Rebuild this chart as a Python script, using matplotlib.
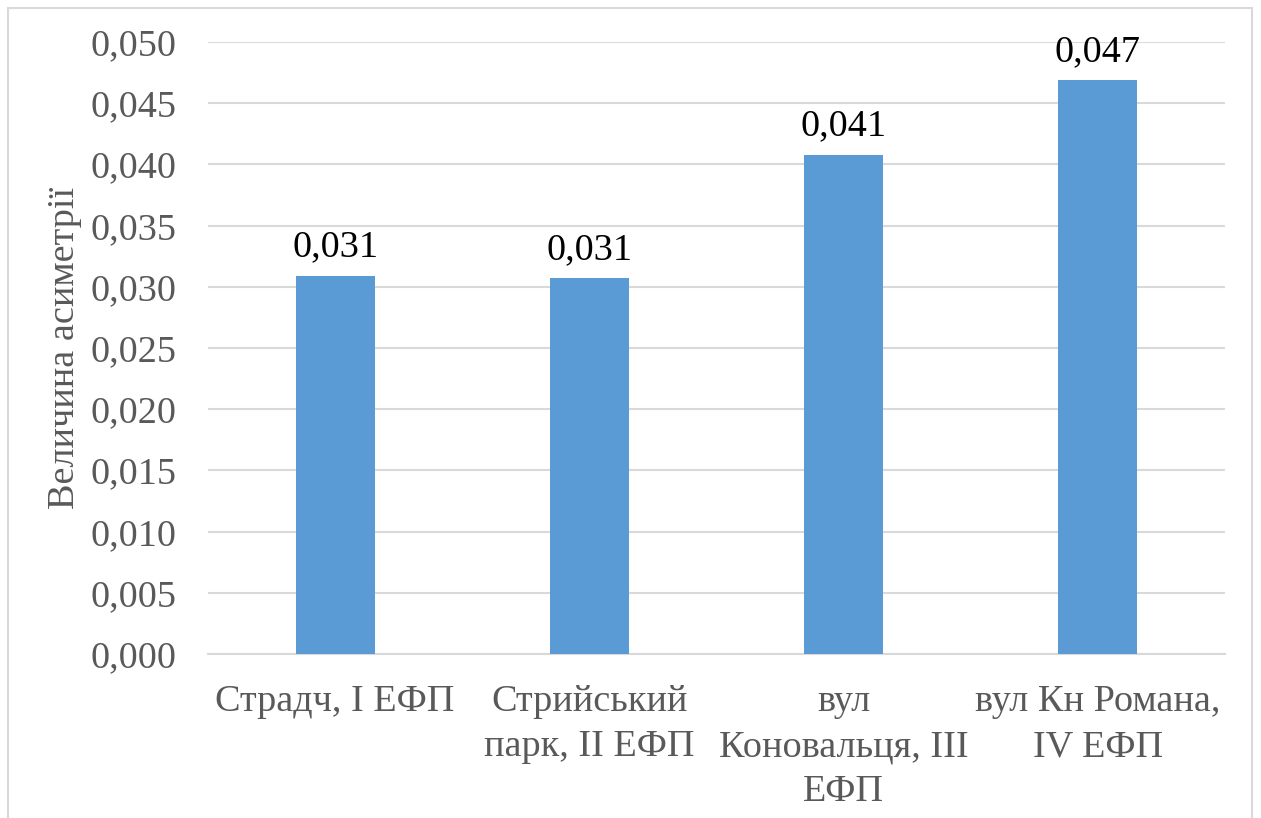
import matplotlib
matplotlib.use("Agg")
import matplotlib.pyplot as plt
from matplotlib.patches import Rectangle
from matplotlib.ticker import FuncFormatter, MultipleLocator

# дані
categories = [
    "Страдч, I ЕФП",
    "Стрийський\nпарк, II ЕФП",
    "вул\nКоновальця, III\nЕФП",
    "вул Кн Романа,\nIV ЕФП",
]
values = [0.0309, 0.0307, 0.0408, 0.0469]
value_labels = ["0,031", "0,031", "0,041", "0,047"]

plt.rcParams["font.family"] = ["Liberation Serif", "DejaVu Serif"]
FS = 27.5

fig = plt.figure(figsize=(12.61, 8.18), dpi=100)
ax = fig.add_axes([0.165, 0.2005, 0.8064, 0.7482])

x = range(len(categories))
bars = ax.bar(x, values, width=0.31, color="#5B9BD5", zorder=3)

for b, lab in zip(bars, value_labels):
    ax.annotate(lab, (b.get_x() + b.get_width() / 2, b.get_height()),
                xytext=(0, 8), textcoords="offset points",
                ha="center", va="bottom", fontsize=FS, color="black")

ax.set_xlim(-0.5, len(categories) - 0.5)
ax.set_ylim(0, 0.05)
ax.yaxis.set_major_locator(MultipleLocator(0.005))
ax.yaxis.set_major_formatter(FuncFormatter(lambda v, p: f"{v:.3f}".replace(".", ",")))
ax.grid(axis="y", color="#d9d9d9", linewidth=1.5, zorder=0)

ax.set_xticks(list(x))
ax.set_xticklabels(categories, fontsize=FS, color="#595959", linespacing=1.4)
ax.tick_params(axis="x", length=0, pad=22)
ax.tick_params(axis="y", length=0, pad=23, labelsize=FS, labelcolor="#595959")

for s in ["top", "right", "left"]:
    ax.spines[s].set_visible(False)
ax.spines["bottom"].set_color("#d9d9d9")
ax.spines["bottom"].set_linewidth(1.5)

ax.set_ylabel("Величина асиметрії", fontsize=FS, color="#595959")
ax.yaxis.set_label_coords(-0.124, 0.5)

# рамка діаграми
fig.patches.append(Rectangle((8 / 1261, -0.05), 1244 / 1261, 1 - 8 / 818 + 0.05,
                             transform=fig.transFigure, fill=False,
                             edgecolor="#d9d9d9", linewidth=1.5))

fig.savefig("out.png", dpi=100)
